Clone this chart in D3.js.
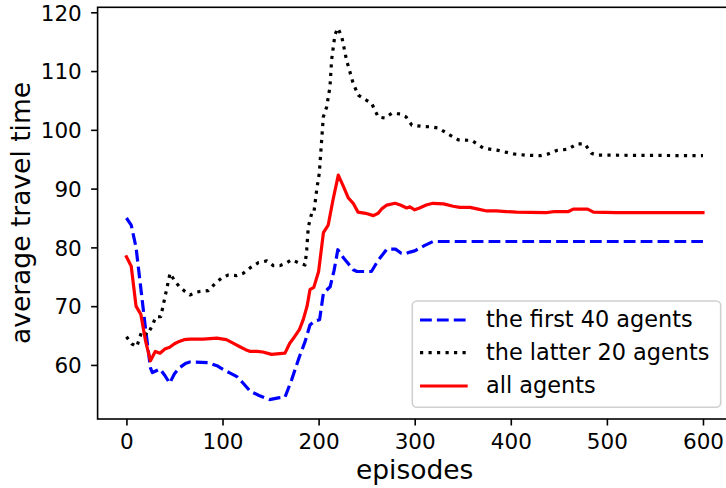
<!DOCTYPE html>
<html>
<head>
<meta charset="utf-8">
<script src="https://cdn.jsdelivr.net/npm/d3@7"></script>
<style>
  html, body { margin: 0; padding: 0; background: #fff; }
  svg { display: block; font-family: "DejaVu Sans", sans-serif; }
</style>
</head>
<body>
<svg id="chart" width="726" height="488"></svg>
<script>
// Average travel time per training episode, smoothed, for three agent groups.
const firstEpisodes = [0, 5, 10, 15, 20, 25, 27, 35, 40, 45, 50, 55, 62, 66, 85, 95, 101, 108, 115, 122, 129, 138, 149, 158, 165, 172, 180, 186, 191, 196, 201, 205, 212, 216, 220, 226, 231, 236, 240, 255, 262, 271, 280, 286, 290, 295, 300, 310, 319, 600];
const firstAgents = [85.0, 83.8, 80.0, 73.0, 66.0, 59.5, 58.7, 59.3, 58.2, 56.9, 58.5, 59.5, 60.3, 60.5, 60.4, 59.8, 59.2, 58.6, 58.0, 56.8, 55.5, 54.8, 54.1, 54.4, 54.5, 57.5, 61.4, 64.0, 66.8, 67.5, 67.7, 72.2, 73.3, 76.0, 79.6, 78.2, 77.2, 76.2, 75.9, 75.9, 77.8, 79.7, 79.7, 79.0, 78.9, 79.2, 79.4, 80.3, 81.0, 81.0];

const latterEpisodes = [0, 5.5, 10.7, 16, 21.8, 26.3, 30.8, 35.7, 40.2, 45.4, 50.6, 55.8, 61, 66.2, 71, 76.6, 85.2, 92, 99.2, 106, 114.8, 121.6, 128.6, 137.3, 146, 152.9, 159.8, 166.8, 172, 178.9, 185.9, 187.6, 189.3, 192.8, 195, 198, 200.7, 203.2, 204.9, 208.4, 211.8, 213.6, 217, 220, 224, 229, 236, 241.3, 248, 255.2, 262, 269, 276, 285, 291, 297, 307, 317.7, 324.6, 336.7, 345.4, 359.3, 371.4, 387, 402.6, 415, 430.4, 439, 447.8, 459.8, 468.6, 477, 484, 489.4, 600];
const latterAgents = [64.8, 63.6, 63.1, 65.7, 65.1, 66.5, 68.2, 68.2, 71.6, 75.6, 74.2, 73.2, 72.5, 71.9, 72.3, 72.5, 72.65, 73.8, 74.8, 75.3, 75.2, 75.6, 76.5, 77.4, 77.7, 76.9, 76.9, 77.4, 77.9, 77.4, 77.0, 79.6, 83.5, 85.8, 85.8, 89.8, 92.6, 98.3, 102.2, 103.9, 107.3, 112.0, 116.2, 117.3, 115.9, 111.9, 107.9, 105.9, 105.2, 104.5, 102.2, 102.0, 102.8, 102.7, 102.2, 100.8, 100.6, 100.5, 100.3, 99.1, 98.3, 98.2, 96.9, 96.5, 95.9, 95.7, 95.6, 95.9, 96.5, 96.7, 97.6, 97.6, 96.0, 95.7, 95.6];

const allEpisodes = [0, 5, 10, 15, 20, 25, 30, 35, 40, 45, 50, 55, 60, 66, 80, 94, 104, 111, 118, 124, 129, 136, 142, 151, 165, 170, 175, 180, 184, 188, 191, 195, 200, 205, 210, 215, 220.5, 226, 231, 236, 241, 249, 257, 262, 266, 271, 279.5, 285, 291.7, 295, 300, 305, 312, 319, 330, 340, 347, 357.5, 366, 375, 385, 395, 406, 420, 437, 446, 460, 465, 480, 486, 510, 600];
const allAgents = [78.4, 76.8, 70.0, 68.6, 64.0, 60.7, 62.3, 62.0, 62.7, 63.0, 63.6, 64.0, 64.3, 64.4, 64.4, 64.55, 64.3, 63.7, 63.1, 62.6, 62.3, 62.3, 62.2, 61.8, 62.0, 63.7, 64.8, 66.0, 67.7, 70.0, 72.8, 73.2, 75.9, 82.5, 83.8, 88.1, 92.3, 90.3, 88.4, 87.5, 86.0, 85.8, 85.4, 85.8, 86.6, 87.2, 87.5, 87.2, 86.7, 86.9, 86.4, 86.7, 87.2, 87.5, 87.4, 87.0, 86.8, 86.8, 86.5, 86.2, 86.2, 86.1, 86.0, 85.95, 85.9, 86.1, 86.1, 86.5, 86.5, 86.0, 85.9, 85.9];

const xTicks = [0, 100, 200, 300, 400, 500, 600];
const yTicks = [60, 70, 80, 90, 100, 110, 120];
const seriesNames = ["the first 40 agents", "the latter 20 agents", "all agents"];

const svg = d3.select("#chart");

const frame = { left: 97.6, right: 731.8, top: 7.3, bottom: 419 };
const x = d3.scaleLinear().domain([-30, 630]).range([frame.left, frame.right]);
const y = d3.scaleLinear().domain([50.8, 120.85]).range([frame.bottom, frame.top]);

const zip = (xs, ys) => xs.map((e, i) => [e, ys[i]]);
const line = d3.line().x(d => x(d[0])).y(d => y(d[1]));

const series = [
  { name: seriesNames[0], data: zip(firstEpisodes, firstAgents), color: "#0000ff", dash: "11.8,5.1", cap: "butt" },
  { name: seriesNames[1], data: zip(latterEpisodes, latterAgents), color: "#000000", dash: "3.2,5.3", cap: "butt" },
  { name: seriesNames[2], data: zip(allEpisodes, allAgents), color: "#ff0000", dash: null, cap: "square" }
];

const plot = svg.append("g");
series.forEach(s => {
  plot.append("path")
    .attr("d", line(s.data))
    .attr("fill", "none")
    .attr("stroke", s.color)
    .attr("stroke-width", 3.2)
    .attr("stroke-linejoin", "round")
    .attr("stroke-linecap", s.cap)
    .attr("stroke-dasharray", s.dash);
});

// Axes
const xAxis = svg.append("g")
  .attr("transform", `translate(0,${frame.bottom})`)
  .call(d3.axisBottom(x).tickValues(xTicks).tickSize(6.5).tickSizeOuter(0).tickPadding(8));
const yAxis = svg.append("g")
  .attr("transform", `translate(${frame.left},0)`)
  .call(d3.axisLeft(y).tickValues(yTicks).tickSize(6.5).tickSizeOuter(0).tickPadding(8));

[xAxis, yAxis].forEach(a => {
  a.select(".domain").remove();
  a.selectAll(".tick line").attr("stroke", "#000").attr("stroke-width", 1.6);
  a.selectAll(".tick text")
    .attr("fill", "#000")
    .style("font-size", "21.5px")
    .style("font-family", "DejaVu Sans, sans-serif");
});
xAxis.selectAll(".tick text").attr("dy", null).attr("y", 30.3);
yAxis.selectAll(".tick text").attr("dy", "0.36em").attr("x", -15.8);

// Spines
svg.append("rect")
  .attr("x", frame.left).attr("y", frame.top)
  .attr("width", frame.right - frame.left).attr("height", frame.bottom - frame.top)
  .attr("fill", "none").attr("stroke", "#000").attr("stroke-width", 1.6);

// Axis titles
svg.append("text")
  .attr("x", x(300)).attr("y", 479)
  .attr("text-anchor", "middle")
  .style("font-size", "26.5px")
  .text("episodes");
svg.append("text")
  .attr("transform", `translate(30,213) rotate(-90)`)
  .attr("text-anchor", "middle")
  .style("font-size", "26.5px")
  .text("average travel time");

// Legend
const legend = svg.append("g");
legend.append("rect")
  .attr("x", 412.3).attr("y", 301)
  .attr("width", 308.4).attr("height", 106.3)
  .attr("rx", 4.5)
  .attr("fill", "#fff").attr("fill-opacity", 0.8)
  .attr("stroke", "#d0d0d0").attr("stroke-width", 1.6);
const rowY = [320, 352.7, 386];
series.forEach((s, i) => {
  legend.append("line")
    .attr("x1", 420).attr("x2", 467.7)
    .attr("y1", rowY[i]).attr("y2", rowY[i])
    .attr("stroke", s.color).attr("stroke-width", 3.2)
    .attr("stroke-dasharray", s.dash)
    .attr("stroke-linecap", "butt");
  legend.append("text")
    .attr("x", 486).attr("y", rowY[i] + 7.4)
    .style("font-size", "22.4px")
    .text(s.name);
});
</script>
</body>
</html>
